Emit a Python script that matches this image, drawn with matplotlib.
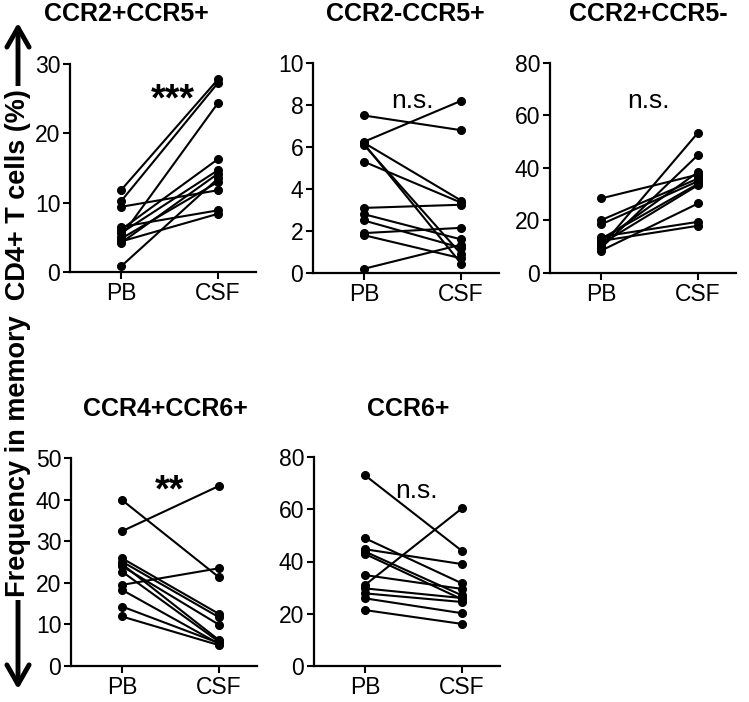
import matplotlib
matplotlib.use("Agg")
import matplotlib.pyplot as plt
from matplotlib.patches import FancyArrowPatch

# ---------------- data ----------------
groups = ["PB", "CSF"]

title_1 = "CCR2+CCR5+"
pb_1 = [11.8, 10.2, 9.4, 6.5, 6.1, 5.6, 5.1, 4.8, 4.4, 4.2, 0.8]
csf_1 = [27.8, 27.3, 11.8, 8.9, 16.3, 14.7, 24.4, 13.0, 8.4, 14.2, 13.5]
stat_1 = "***"

title_2 = "CCR2-CCR5+"
pb_2 = [7.5, 6.25, 6.2, 6.15, 6.1, 5.3, 3.1, 2.8, 2.5, 1.9, 1.8, 0.2]
csf_2 = [6.8, 8.2, 3.45, 0.45, 0.9, 3.35, 3.25, 1.6, 1.2, 2.15, 0.7, 1.35]
stat_2 = "n.s."

title_3 = "CCR2+CCR5-"
pb_3 = [28.4, 20.1, 18.5, 10.0, 9.5, 12.0, 13.0, 11.0, 8.5, 13.8, 12.2]
csf_3 = [37.5, 36.0, 35.0, 53.5, 45.0, 38.5, 34.0, 33.5, 26.5, 19.5, 18.0]
stat_3 = "n.s."

title_4 = "CCR4+CCR6+"
pb_4 = [39.9, 32.4, 25.9, 25.1, 24.0, 22.7, 19.5, 18.3, 14.3, 11.9, 24.5]
csf_4 = [21.3, 43.3, 12.5, 11.7, 9.9, 5.8, 23.5, 5.3, 5.5, 5.0, 6.2]
stat_4 = "**"

title_5 = "CCR6+"
pb_5 = [73.0, 31.0, 48.9, 44.7, 43.8, 42.9, 34.8, 29.7, 27.8, 25.9, 21.4]
csf_5 = [44.0, 60.4, 31.6, 39.0, 27.0, 25.5, 29.5, 26.0, 24.5, 20.2, 16.1]
stat_5 = "n.s."

yticks_1 = [0, 10, 20, 30]
yticks_2 = [0, 2, 4, 6, 8, 10]
yticks_3 = [0, 20, 40, 60, 80]
yticks_4 = [0, 10, 20, 30, 40, 50]
yticks_5 = [0, 20, 40, 60, 80]

ylabel = "Frequency in memory  CD4+ T cells (%)"

# ---------------- layout ----------------
W, H = 749, 702
fig = plt.figure(figsize=(W / 100, H / 100), dpi=100)

tick_font = ["Liberation Sans", "DejaVu Sans"]
bold_font = ["Liberation Sans", "DejaVu Sans"]


def px_rect(left, top, bottom, width=186):
    return [left / W, 1 - bottom / H, width / W, (bottom - top) / H]


panels = [
    (px_rect(70, 64, 272), pb_1, csf_1, yticks_1, title_1, (126, 14), stat_1, (0.53, 24.8), True),
    (px_rect(313, 63, 273), pb_2, csf_2, yticks_2, title_2, (405, 14), stat_2, (0.50, 8.2), False),
    (px_rect(550, 63, 273), pb_3, csf_3, yticks_3, title_3, (648, 14), stat_3, (0.49, 65.5), False),
    (px_rect(71, 458, 666), pb_4, csf_4, yticks_4, title_4, (165, 409), stat_4, (0.49, 42.0), True),
    (px_rect(314, 457, 666), pb_5, csf_5, yticks_5, title_5, (408, 409), stat_5, (0.53, 67.0), False),
]

for rect, pb, csf, yt, title, tpos, stat, spos, is_star in panels:
    ax = fig.add_axes(rect)
    for a, b in zip(pb, csf):
        ax.plot([0, 1], [a, b], color="black", lw=1.5, marker="o", ms=5.5,
                mfc="black", mec="black", clip_on=False, zorder=3)
    ax.set_xlim(-0.525, 1.39)
    ax.set_ylim(yt[0], yt[-1])
    ax.set_yticks(yt)
    ax.set_xticks([0, 1])
    ax.set_xticklabels(groups)
    for s in ["top", "right"]:
        ax.spines[s].set_visible(False)
    for s in ["left", "bottom"]:
        ax.spines[s].set_linewidth(1.6)
    ax.tick_params(direction="out", length=5, width=1.5, pad=2,
                   labelsize=16.5, colors="black")
    for lab in ax.get_xticklabels() + ax.get_yticklabels():
        lab.set_family(tick_font)
    if is_star:
        ax.text(spos[0], spos[1], stat, ha="center", va="center",
                fontsize=27, fontweight="bold", family=bold_font)
    else:
        ax.text(spos[0], spos[1], stat, ha="center", va="center",
                fontsize=19, family=tick_font)
    fig.text(tpos[0] / W, 1 - tpos[1] / H, title, ha="center", va="center",
             fontsize=18, fontweight="bold", family=bold_font)

# y label with double-headed arrow
x_arrow = 18 / W
arrow = FancyArrowPatch((x_arrow, 1 - 692 / H), (x_arrow, 1 - 20 / H),
                        transform=fig.transFigure,
                        arrowstyle="<->,head_length=14,head_width=8",
                        lw=3.5, color="black", mutation_scale=1)
fig.add_artist(arrow)
fig.text(x_arrow, 1 - 343 / H, ylabel, rotation=90, ha="center", va="center",
         fontsize=19.5, fontweight="bold", family=bold_font,
         bbox=dict(facecolor="white", edgecolor="none", pad=2))

fig.savefig("out.png", dpi=100)
